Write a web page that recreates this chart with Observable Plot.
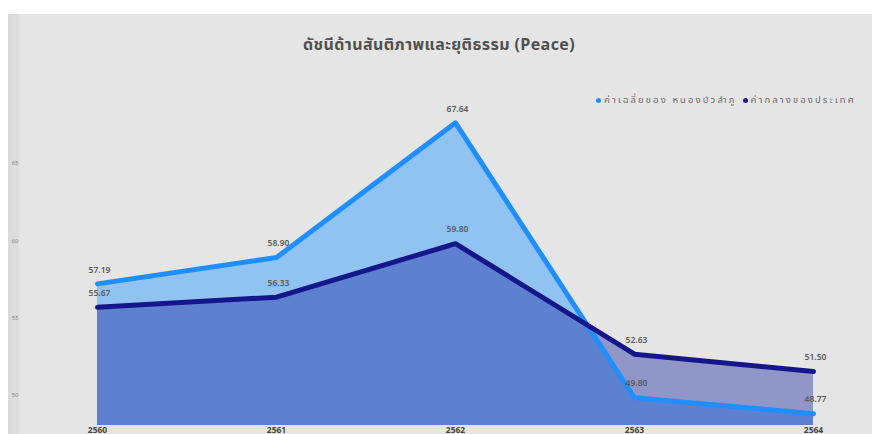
<!DOCTYPE html>
<html>
<head>
<meta charset="utf-8">
<script src="https://cdn.jsdelivr.net/npm/d3@7"></script>
<script src="https://cdn.jsdelivr.net/npm/@observablehq/plot@0.6"></script>
<style>
  html, body { margin: 0; padding: 0; background: #ffffff; }
  #wrap { position: relative; width: 872px; height: 434px; overflow: hidden; background: #ffffff;
          font-family: "Noto Sans Thai", "Noto Sans", "DejaVu Sans", sans-serif; }
  #panel { position: absolute; left: 8px; top: 14px; right: 0; bottom: 0;
           background: linear-gradient(to right, #dadada 0px, #dedede 10px, #e5e5e5 12px, #e5e5e5 100%); }
  #title { position: absolute; left: 0; width: 872px; top: 33px; text-align: center;
           font-size: 16px; font-weight: 700; letter-spacing: 0.4px; color: #505050; padding-left: 6px; box-sizing: border-box; }
  #legend { position: absolute; left: 596px; top: 93px; white-space: nowrap; font-size: 9.5px; letter-spacing: 2.1px; color: #6a6a6a; }
  #legend span.dot { display: inline-block; width: 5px; height: 5px; border-radius: 3px; margin-right: 3px; vertical-align: middle; }
  #chart { position: absolute; left: 0; top: 0; }
  #chart svg { background: transparent !important; }
</style>
</head>
<body>
<div id="wrap">
  <div id="panel"></div>
  <div id="title">ดัชนีด้านสันติภาพและยุติธรรม (Peace)</div>
  <div id="legend"></div>
  <div id="chart"></div>
</div>
<script>
const years = ["2560", "2561", "2562", "2563", "2564"];
const provinceValues = [57.19, 58.90, 67.64, 49.80, 48.77];
const nationalValues = [55.67, 56.33, 59.80, 52.63, 51.50];
const seriesNames = ["ค่าเฉลี่ยของ หนองบัวลำภู", "ค่ากลางของประเทศ"];
const yTicks = [50, 55, 60, 65];
const yMin = 48, yMax = 70;

const lightLine = "#1f8fff";
const lightFill = "#90c2f2";
const darkLine = "#16168c";
const darkFill = "rgb(17,32,157)";

const prov = years.map((y, i) => ({year: y, value: provinceValues[i]}));
const nat = years.map((y, i) => ({year: y, value: nationalValues[i]}));

const chart = Plot.plot({
  width: 872,
  height: 434,
  marginLeft: 97,
  marginRight: 59,
  marginTop: 86,
  marginBottom: 9,
  style: {background: "transparent", fontFamily: "\"Noto Sans\", \"DejaVu Sans\", sans-serif"},
  x: {type: "point", domain: years, padding: 0, label: null},
  y: {domain: [yMin, yMax], label: null},
  marks: [
    Plot.areaY(prov, {x: "year", y1: yMin, y2: "value", fill: lightFill, curve: "linear"}),
    Plot.areaY(nat, {x: "year", y1: yMin, y2: "value", fill: darkFill, fillOpacity: 0.4, curve: "linear"}),
    Plot.line(prov, {x: "year", y: "value", stroke: lightLine, strokeWidth: 5, curve: "linear"}),
    Plot.line(nat, {x: "year", y: "value", stroke: darkLine, strokeWidth: 5, curve: "linear"}),
    Plot.text(prov, {x: "year", y: "value", text: d => d.value.toFixed(2), dy: -14, dx: 2, fontSize: 8.5, fill: "#5a5a5a", fontWeight: 600}),
    Plot.text(nat, {x: "year", y: "value", text: d => d.value.toFixed(2), dy: -14, dx: 2, fontSize: 8.5, fill: "#5a5a5a", fontWeight: 600}),
    Plot.axisX({tickSize: 0, tickPadding: 1, fontSize: 8.5, fontWeight: 700, color: "#444"}),
    Plot.axisY({ticks: yTicks, tickSize: 0, tickPadding: 79, fontSize: 6, color: "#888"})
  ]
});
document.getElementById("chart").appendChild(chart);

const legend = document.getElementById("legend");
const legendColors = [lightLine, darkLine];
seriesNames.forEach((name, i) => {
  const item = document.createElement("span");
  item.style.marginRight = "6px";
  item.innerHTML = `<span class="dot" style="background:${legendColors[i]}"></span>${name}`;
  legend.appendChild(item);
});
</script>
</body>
</html>
